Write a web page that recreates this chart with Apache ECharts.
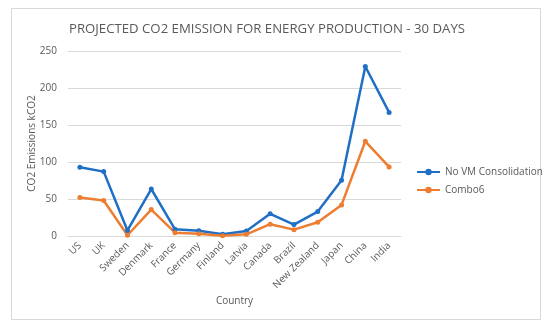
<!DOCTYPE html>
<html><head><meta charset="utf-8">
<script src="https://cdn.jsdelivr.net/npm/echarts@6/dist/echarts.min.js"></script>
<style>html,body{margin:0;padding:0;background:#fff}#c{width:550px;height:333px}</style>
</head><body><div id="c"></div>
<script>
const categories = ["US","UK","Sweden","Denmark","France","Germany","Finland","Latvia","Canada","Brazil","New Zealand","Japan","China","India"];
const noVM = [93, 87, 7.5, 63.5, 9, 7, 2.3, 6.8, 30, 15.4, 33, 75.3, 229, 167];
const combo6 = [52, 48, 1, 35.7, 4.5, 3.2, 0.5, 2.3, 16, 8.6, 18.5, 42, 128, 93.3];
const yTicks = {min: 0, max: 250, interval: 50};

const chart = echarts.init(document.getElementById('c'));
const font = '"Open Sans", sans-serif';
chart.setOption({
  animation: false,
  graphic: [{type:'rect', shape:{x:11.5,y:8.5,width:529,height:311}, style:{fill:'none', stroke:'#d9d9d9', lineWidth:1}, z:-1}],
  title: {text:'PROJECTED CO2 EMISSION FOR ENERGY PRODUCTION - 30 DAYS', left:262, textAlign:'center', top:18,
    textStyle:{fontFamily:font, fontSize:13.2, fontWeight:'normal', color:'#595959'}},
  legend: {orient:'vertical', left:411, top:162, itemGap:8, itemWidth:23, itemHeight:8,
    textStyle:{fontFamily:font, fontSize:10, color:'#595959'},
    data:['No VM Consolidation','Combo6']},
  grid: {left:68, right:149, top:51, bottom:97},
  xAxis: {type:'category', data:categories, boundaryGap:true,
    name:'Country', nameLocation:'middle', nameGap:60, nameMoveOverlap:false,
    nameTextStyle:{fontFamily:font, fontSize:10, color:'#595959'},
    axisLine:{lineStyle:{color:'#d9d9d9'}}, axisTick:{show:false},
    axisLabel:{rotate:45, interval:0, fontFamily:font, fontSize:10, color:'#595959', margin:8}},
  yAxis: {type:'value', min:yTicks.min, max:yTicks.max, interval:yTicks.interval,
    name:'CO2 Emissions kCO2', nameLocation:'middle', nameGap:31, nameMoveOverlap:false,
    nameTextStyle:{fontFamily:font, fontSize:10, color:'#595959'},
    axisLine:{show:false}, axisTick:{show:false},
    splitLine:{lineStyle:{color:'#d9d9d9'}},
    axisLabel:{fontFamily:font, fontSize:10, color:'#595959', margin:11}},
  series: [
    {name:'No VM Consolidation', type:'line', data:noVM, symbol:'circle', symbolSize:5,
      lineStyle:{width:2.5, color:'#1f6fc5'}, itemStyle:{color:'#1f6fc5'}},
    {name:'Combo6', type:'line', data:combo6, symbol:'circle', symbolSize:5,
      lineStyle:{width:2.5, color:'#ed7d31'}, itemStyle:{color:'#ed7d31'}}
  ]
});
</script></body></html>
